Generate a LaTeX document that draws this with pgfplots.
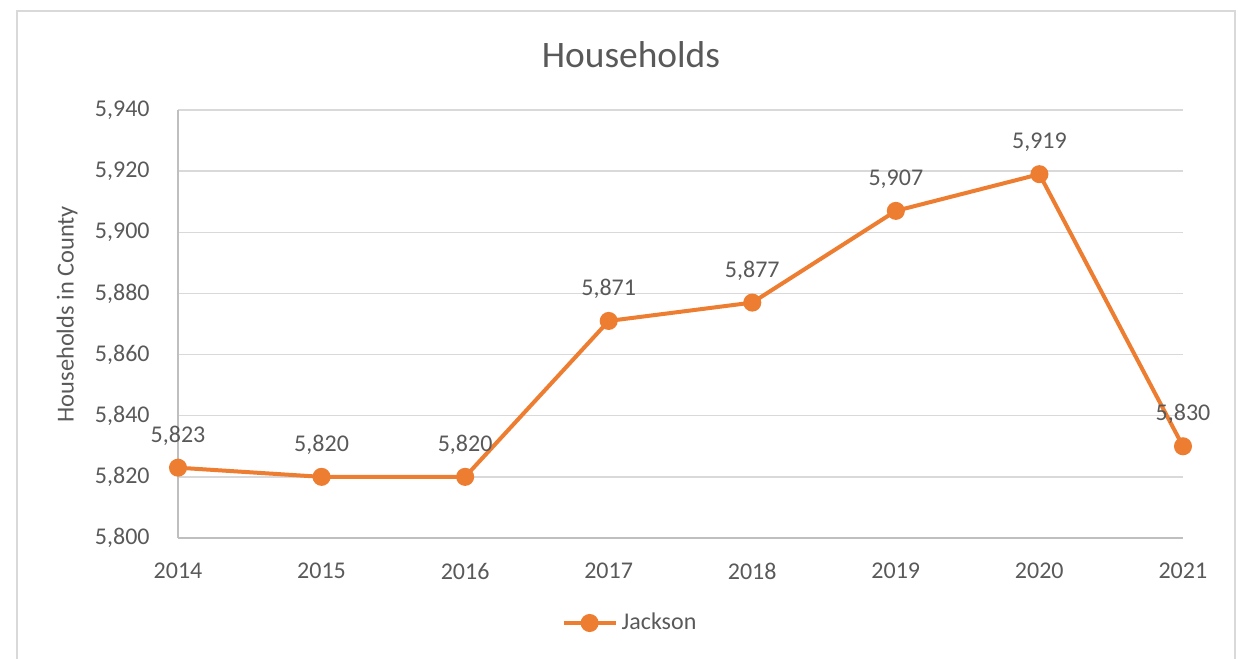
\documentclass[border=0pt]{standalone}
\usepackage{pgfplots}
\pgfplotsset{compat=1.18}
\usepackage{fontspec}
\setmainfont{Carlito}
\definecolor{orng}{HTML}{ED7D31}
\definecolor{txt}{HTML}{595959}
\definecolor{grd}{HTML}{D9D9D9}
\definecolor{axl}{HTML}{BFBFBF}
\begin{document}
\begin{tikzpicture}
\useasboundingbox (0,0) rectangle (619bp,329.5bp);
\draw[grd, line width=0.75bp] (8.5bp,-5bp) rectangle (617.5bp,324bp);
\begin{axis}[
  at={(89bp,60.5bp)}, anchor=south west,
  scale only axis, width=502.5bp, height=214bp,
  xmin=2014, xmax=2021, ymin=5800, ymax=5940,
  xtick={2014,...,2021}, ytick={5800,5820,...,5940},
  clip=false,
  axis x line*=bottom, axis y line*=left,
  axis line style={axl, line width=0.75bp, -},
  major tick length=0pt,
  ymajorgrids, grid style={grd, line width=0.75bp},
  /pgf/number format/assume math mode=true,
  tick label style={font=\fontsize{12bp}{14bp}\selectfont, text=txt, inner sep=0pt},
  xticklabel style={anchor=center, yshift=-16.5bp, /pgf/number format/1000 sep={}},
  yticklabel style={anchor=east, xshift=-14bp, /pgf/number format/1000 sep={,}},
  ylabel={Households in County},
  ylabel style={at={(axis description cs:-0.1104,0.523)}, anchor=center, font=\fontsize{12.2bp}{14bp}\selectfont, text=txt},
  title={Households},
  every axis title shift=0pt,
  title style={at={(axis description cs:0.4507,1.1285)}, anchor=center, font=\fontsize{18.7bp}{21bp}\selectfont, text=txt},
  legend style={at={(axis description cs:0.4507,-0.1986)}, anchor=center, draw=none, fill=none, font=\fontsize{12bp}{14bp}\selectfont, text=txt},
  legend image code/.code={\draw[mark repeat=2,mark phase=2,#1] plot coordinates {(0cm,0cm)(0.46cm,0cm)(0.92cm,0cm)};},
  nodes near coords={\pgfmathprintnumber[1000 sep={,}]{\pgfplotspointmeta}},
  every node near coord/.append style={anchor=center, yshift=16bp, font=\fontsize{12bp}{14bp}\selectfont, text=txt, /pgf/number format/assume math mode=true},
]
\addplot[orng, line width=2bp, mark=*, mark size=3.5bp, mark options={fill=orng, draw=orng}] coordinates {
(2014,5823) (2015,5820) (2016,5820) (2017,5871) (2018,5877) (2019,5907) (2020,5919) (2021,5830)
};
\addlegendentry{Jackson}
\end{axis}
\end{tikzpicture}
\end{document}
